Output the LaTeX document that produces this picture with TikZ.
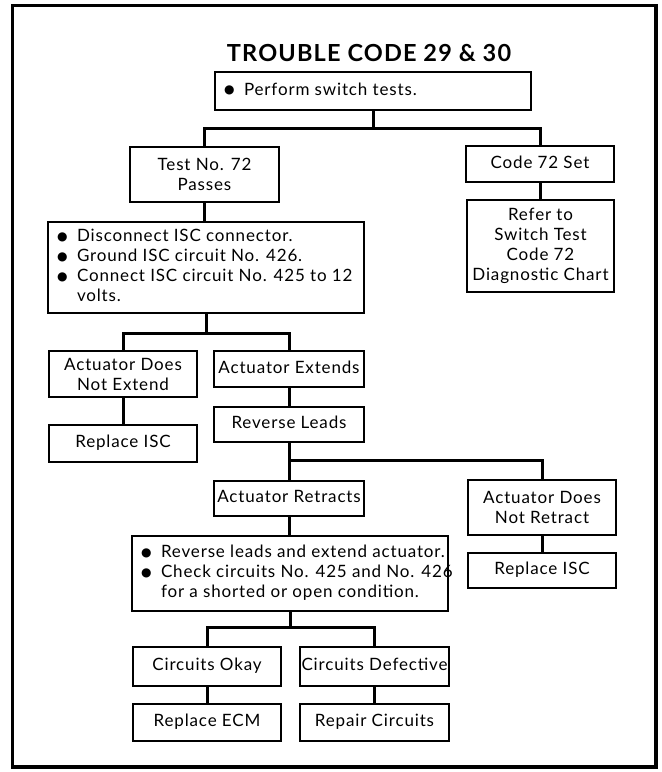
\documentclass[tikz,border=0pt]{standalone}
\usepackage{fontspec}
\setmainfont[LetterSpace=5]{Lato}
\newfontfamily\symfont{DejaVu Sans}
\newcommand\bul{\raisebox{1.2pt}{\symfont\fontsize{12}{12}\selectfont ●}}

\begin{document}
\begin{tikzpicture}[x=1pt,y=-1pt,
  box/.style={draw, line width=2.3pt, inner sep=0pt, align=center,
    font=\fontsize{17}{20}\selectfont},
  onebox/.style={box, text height=12pt, text depth=4pt},
  listbox/.style={draw, line width=2.3pt, inner xsep=9pt, inner ysep=0pt,
    font=\fontsize{17}{20}\selectfont},
  link/.style={line width=3pt},
  frame/.style={line width=3.5pt},
  title/.style={font=\fontsize{23.5}{24}\selectfont\bfseries, inner sep=0pt}]

\useasboundingbox (0,0) rectangle (662,772);
\draw[frame] (12.5,5.5) rectangle (656,767);

\node[title] (head) at (369,53.5) {TROUBLE CODE 29 \& 30};

% first step
\node[listbox, minimum width=316pt, minimum height=38pt] (perf) at (373,91)
  {\makebox[298pt][l]{\begin{tabular}{@{}p{20pt}@{}l@{}}\bul & Perform switch tests.\end{tabular}}};

\node[box, minimum width=149pt, minimum height=55pt] (test) at (204.5,174.5) {Test No. 72\\Passes};
\node[onebox, minimum width=148pt, minimum height=36pt] (code) at (540,164) {Code 72 Set};
\node[box, minimum width=147pt, minimum height=92pt] (refer) at (540.5,246)
  {Refer to\\Switch Test\\Code 72\\Diagnostic Chart};

\node[listbox, minimum width=316pt, minimum height=91pt] (disc) at (206,267.5)
  {\makebox[298pt][l]{\begin{tabular}{@{}p{20pt}@{}l@{}}
   \bul & Disconnect ISC connector.\\
   \bul & Ground ISC circuit No. 426.\\
   \bul & Connect ISC circuit No. 425 to 12\\
        & volts.\end{tabular}}};

\node[box, minimum width=148pt, minimum height=46pt] (notext) at (123,374) {Actuator Does\\Not Extend};
\node[onebox, minimum width=150pt, minimum height=36pt] (ext) at (289,369) {Actuator Extends};
\node[onebox, minimum width=148pt, minimum height=37pt] (repl1) at (123,443.5) {Replace ISC};
\node[onebox, minimum width=150pt, minimum height=35pt] (rev) at (289,424.5) {Reverse Leads};
\node[onebox, minimum width=150pt, minimum height=35pt] (retr) at (289,498.5) {Actuator Retracts};
\node[box, minimum width=148pt, minimum height=55pt] (notretr) at (542,507.5) {Actuator Does\\Not Retract};
\node[onebox, minimum width=148pt, minimum height=35pt] (repl2) at (542,570.5) {Replace ISC};

\node[listbox, minimum width=316pt, minimum height=75pt] (chk) at (290,573.5)
  {\makebox[298pt][l]{\begin{tabular}{@{}p{20pt}@{}l@{}}
   \bul & Reverse leads and extend actuator.\\
   \bul & Check circuits No. 425 and No. 426\\
        & for a shorted or open condition.\end{tabular}}};

\node[onebox, minimum width=148pt, minimum height=39pt] (ok) at (207,666.5) {Circuits Okay};
\node[onebox, minimum width=149pt, minimum height=39pt] (def) at (374.5,666.5) {Circuits Defective};
\node[onebox, minimum width=148pt, minimum height=37pt] (ecm) at (207,722.5) {Replace ECM};
\node[onebox, minimum width=149pt, minimum height=37pt] (rep) at (374.5,722.5) {Repair Circuits};

% connectors
\coordinate (j1) at (373,128);
\draw[link] (perf.south) -- (j1);
\draw[link] (test.north) |- (j1) -| (code.north);
\draw[link] (code.south) -- (code.south |- refer.north);
\draw[link] (test.south) -- (test.south |- disc.north);

\coordinate (j2) at (206,333);
\draw[link] (disc.south) -- (j2);
\draw[link] (notext.north) |- (j2) -| (ext.north);
\draw[link] (notext.south) -- (repl1.north);
\draw[link] (ext.south) -- (rev.north);

\coordinate (j3) at (289,460);
\draw[link] (rev.south) -- (j3) -| (notretr.north);
\draw[link] (j3) -- (retr.north);
\draw[link] (notretr.south) -- (repl2.north);
\draw[link] (retr.south) -- (retr.south |- chk.north);

\coordinate (j4) at (290,627);
\draw[link] (chk.south) -- (j4);
\draw[link] (ok.north) |- (j4) -| (def.north);
\draw[link] (ok.south) -- (ecm.north);
\draw[link] (def.south) -- (rep.north);
\end{tikzpicture}
\end{document}
